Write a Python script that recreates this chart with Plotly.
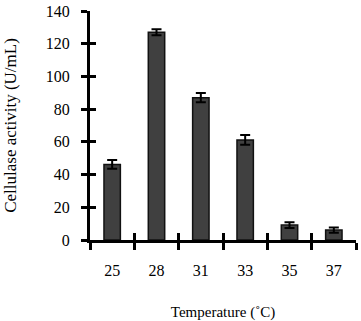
import plotly.graph_objects as go

temperatures = ["25", "28", "31", "33", "35", "37"]
activity = [46.2, 127.0, 87.0, 61.2, 9.1, 6.1]
errors = [2.7, 1.9, 2.8, 3.0, 1.8, 1.6]
y_ticks = [0, 20, 40, 60, 80, 100, 120, 140]

font_family = "Liberation Serif, Times New Roman, serif"

fig = go.Figure()
fig.add_trace(go.Bar(
    x=temperatures, y=activity,
    marker=dict(color="#404040", line=dict(color="#111111", width=1.5)),
    error_y=dict(type="data", array=errors, visible=True, color="black", thickness=2, width=5),
    showlegend=False,
))
# invisible trace to activate the overlay axes (inner halves of ticks)
fig.add_trace(go.Scatter(x=temperatures, y=activity, xaxis="x2", yaxis="y2", mode="markers",
                         marker=dict(opacity=0), showlegend=False, hoverinfo="skip"))

axis_common = dict(showline=True, linecolor="black", linewidth=3, showgrid=False, zeroline=False,
                   tickcolor="black", tickwidth=3, automargin=False)

fig.update_layout(
    width=361, height=321,
    margin=dict(l=90, r=5, t=11, b=81),
    paper_bgcolor="white", plot_bgcolor="white",
    font=dict(family=font_family, size=16, color="black"),
    bargap=0.63,
    xaxis=dict(**axis_common, type="category", tickson="boundaries", ticks="outside", ticklen=7,
               ticklabelstandoff=14,
               title=dict(text="Temperature (˚C)", standoff=29, font=dict(size=15))),
    yaxis=dict(**axis_common, range=[0, 140], tickvals=y_ticks, ticks="outside", ticklen=6,
               ticklabelstandoff=8,
               title=dict(text="Cellulase activity (U/mL)", standoff=25, font=dict(size=17))),
    xaxis2=dict(**axis_common, type="category", overlaying="x", matches="x", tickson="boundaries",
                ticks="inside", ticklen=7, showticklabels=False, anchor="y"),
    yaxis2=dict(**axis_common, overlaying="y", matches="y", tickvals=y_ticks, ticks="inside",
                ticklen=6, showticklabels=False, anchor="x"),
)

fig.write_html("out.html", config={"displayModeBar": False},
               post_script="document.body.style.margin='0';")
